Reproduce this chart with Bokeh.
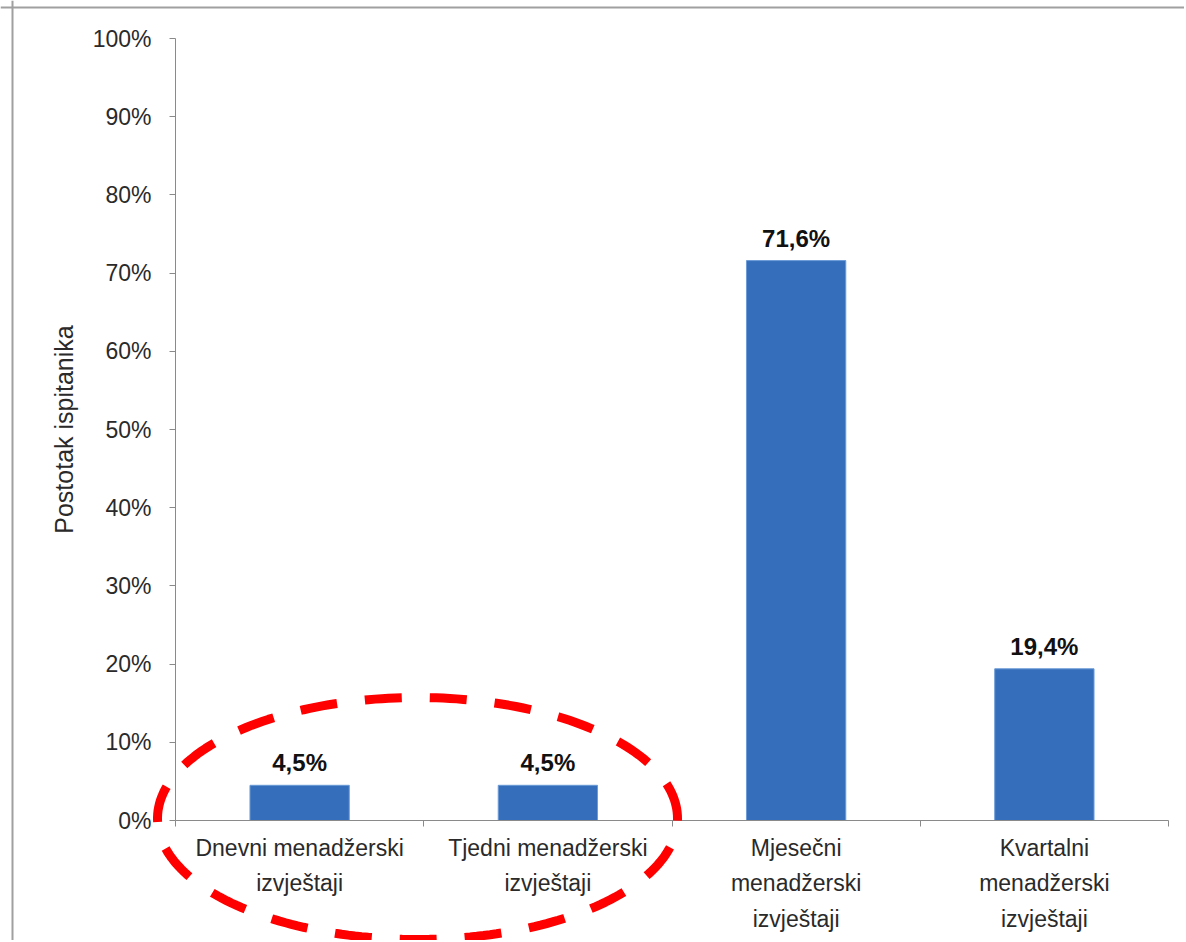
import numpy as np
from bokeh.plotting import figure
from bokeh.models import (ColumnDataSource, FixedTicker, PrintfTickFormatter, PolyAnnotation,
                          Range1d, Span)
from bokeh.core.properties import value
from bokeh.embed import file_html
from bokeh.resources import INLINE

# ---- data ----
categories = ["Dnevni menadžerski izvještaji", "Tjedni menadžerski izvještaji",
              "Mjesečni menadžerski izvještaji", "Kvartalni menadžerski izvještaji"]
category_labels = ["Dnevni menadžerski\nizvještaji", "Tjedni menadžerski\nizvještaji",
                   "Mjesečni\nmenadžerski\nizvještaji", "Kvartalni\nmenadžerski\nizvještaji"]
values = [4.5, 4.5, 71.6, 19.4]
y_ticks = [0, 10, 20, 30, 40, 50, 60, 70, 80, 90, 100]
y_label = "Postotak ispitanika"

# ---- layout (pixels) ----
FONT = "Liberation Sans"
W, H = 1184, 940
X0, X1 = 175, 1168      # plot area left / right
Y100, Y0 = 38, 820      # plot area top (100%) / baseline (0%)
n = len(categories)
ppx = (X1 - X0) / n
ppy = (Y0 - Y100) / 100.0

centers = np.arange(n) + 0.5
labels = [("%.1f%%" % v).replace(".", ",") for v in values]
src = ColumnDataSource(dict(x=centers, top=values, lab=labels))

p = figure(width=W, height=H, output_backend="svg", toolbar_location=None,
           x_range=Range1d(-X0 / ppx, (W - X0) / ppx),
           y_range=Range1d(-(H - Y0) / ppy, 100 + Y100 / ppy),
           min_border=0, min_border_left=0, min_border_right=0,
           min_border_top=0, min_border_bottom=0)
p.outline_line_color = None
p.grid.visible = False
p.background_fill_color = "white"
p.border_fill_color = "white"

p.vbar(x="x", top="top", bottom=0, width=0.4, source=src,
       fill_color="#356eba", line_color="#6b9bd8", line_width=1)
p.text(x="x", y="top", text="lab", source=src, text_align="center", text_baseline="bottom",
       y_offset=-9, text_font=value(FONT), text_font_style="bold", text_font_size="24px",
       text_color="#111111")

# dashed ellipse highlighting the first two categories
t = np.linspace(0, 2 * np.pi, 240)
ecx, ecy = (417 - X0) / ppx, (Y0 - 818) / ppy
ea, eb = 260 / ppx, 121 / ppy
p.add_layout(PolyAnnotation(xs=list(ecx + ea * np.cos(t)), ys=list(ecy + eb * np.sin(t)),
                            fill_alpha=0, line_color="#ff0000", line_alpha=1.0, line_width=9,
                            line_dash="37 28"))

# chart-area border (top and left edges)
p.add_layout(Span(location=100 + (Y100 - 7) / ppy, dimension="width",
                  line_color="#a0a0a0", line_width=2))
p.add_layout(Span(location=-(X0 - 12) / ppx, dimension="height",
                  line_color="#a0a0a0", line_width=2))

# y axis
ya = p.yaxis[0]
ya.fixed_location = 0
ya.bounds = (0, 100)
ya.ticker = FixedTicker(ticks=y_ticks)
ya.formatter = PrintfTickFormatter(format="%d%%")
ya.axis_line_color = "#8a8a8a"
ya.major_tick_line_color = "#8a8a8a"
ya.major_tick_in = 0
ya.major_tick_out = 6
ya.minor_tick_line_color = None
ya.major_label_text_font = FONT
ya.major_label_text_font_size = "23px"
ya.major_label_text_color = "#2a2a2a"
ya.major_label_standoff = 18
ya.axis_label = y_label
ya.axis_label_text_font = FONT
ya.axis_label_text_font_size = "25px"
ya.axis_label_text_font_style = "normal"
ya.axis_label_text_color = "#2a2a2a"
ya.axis_label_standoff = 12

# x axis: labels at category centers, tick marks at category boundaries
xa = p.xaxis[0]
xa.fixed_location = 0
xa.bounds = (0, n)
xa.ticker = FixedTicker(ticks=list(centers), minor_ticks=list(np.arange(n + 1)))
xa.major_label_overrides = {float(c): lab for c, lab in zip(centers, category_labels)}
xa.axis_line_color = "#8a8a8a"
xa.major_tick_line_color = None
xa.minor_tick_line_color = "#8a8a8a"
xa.minor_tick_in = 0
xa.minor_tick_out = 6
xa.major_label_text_font = FONT
xa.major_label_text_font_size = "23px"
xa.major_label_text_color = "#2a2a2a"
xa.major_label_text_line_height = 1.38
xa.major_label_standoff = 8

open("out.html", "w").write(file_html(p, INLINE))
